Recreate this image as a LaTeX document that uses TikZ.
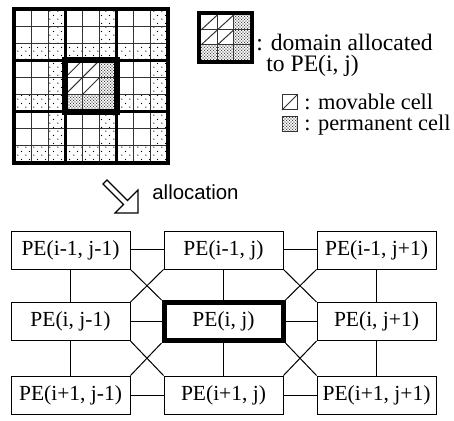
\documentclass[tikz,border=0pt]{standalone}
\usepackage{fontspec}
\setmainfont{Liberation Serif}
\setsansfont{Liberation Sans}
\usetikzlibrary{patterns,positioning}

\pgfdeclarepatternformonly{finedots}{\pgfqpoint{0pt}{0pt}}{\pgfqpoint{1.4pt}{1.4pt}}{\pgfqpoint{1.4pt}{1.4pt}}{%
  \pgfpathcircle{\pgfqpoint{0.35pt}{0.35pt}}{0.3pt}%
  \pgfpathcircle{\pgfqpoint{1.05pt}{1.05pt}}{0.3pt}%
  \pgfusepath{fill}}
\pgfdeclarepatternformonly{sparsedots}{\pgfqpoint{0pt}{0pt}}{\pgfqpoint{4pt}{4pt}}{\pgfqpoint{4pt}{4pt}}{%
  \pgfpathcircle{\pgfqpoint{1pt}{1pt}}{0.35pt}%
  \pgfpathcircle{\pgfqpoint{3pt}{3pt}}{0.35pt}%
  \pgfusepath{fill}}

\tikzset{
  pebox/.style={draw, minimum width=59.5pt, minimum height=19pt, inner sep=0pt,
    font=\fontsize{10.75}{12}\selectfont},
  cellline/.style={line width=0.5pt, black!80},
  blockline/.style={line width=1.6pt},
  domainline/.style={line width=3pt},
  legendtext/.style={anchor=west, inner sep=0pt, font=\fontsize{11.2}{13}\selectfont},
}

\begin{document}
\begin{tikzpicture}[x=0.5pt,y=-0.5pt]
\useasboundingbox (0,0) rectangle (454,421);
\def\cs{17.111}
% cells of the whole area
\foreach \i in {0,...,8}{
  \foreach \j in {0,...,8}{
    \pgfmathtruncatemacro{\isperm}{or(mod(\i,3)==2,mod(\j,3)==2)}
    \pgfmathtruncatemacro{\iscentre}{and(and(\i>2,\i<6),and(\j>2,\j<6))}
    \ifnum\iscentre=1
      \ifnum\isperm=1
        \fill[pattern=finedots] ({14+\i*\cs},{9+\j*\cs}) rectangle +(\cs,\cs);
      \else
        \draw[cellline] ({14+\i*\cs},{9+(\j+1)*\cs}) -- +(\cs,-\cs);
      \fi
    \else
      \ifnum\isperm=1
        \fill[pattern=sparsedots] ({14+\i*\cs},{9+\j*\cs}) rectangle +(\cs,\cs);
      \fi
    \fi
  }
}
\foreach \k in {1,2,4,5,7,8}{
  \draw[cellline] ({14+\k*\cs},9) -- ({14+\k*\cs},163);
  \draw[cellline] (14,{9+\k*\cs}) -- (168,{9+\k*\cs});
}
\foreach \k in {3,6}{
  \draw[blockline] ({14+\k*\cs},9) -- ({14+\k*\cs},163);
  \draw[blockline] (14,{9+\k*\cs}) -- (168,{9+\k*\cs});
}
\draw[blockline] (14,9) rectangle (168,163);
\draw[domainline] ({14+3*\cs},{9+3*\cs}) rectangle ({14+6*\cs},{9+6*\cs});
%
% legend
\foreach \i in {0,1,2}{
  \foreach \j in {0,1,2}{
    \pgfmathtruncatemacro{\isperm}{or(\i==2,\j==2)}
    \ifnum\isperm=1
      \fill[pattern=finedots] ({201+\i*16.33},{15+\j*15}) rectangle +(16.33,15);
    \else
      \draw[cellline] ({201+\i*16.33},{15+(\j+1)*15}) -- +(16.33,-15);
    \fi
  }
}
\foreach \k in {1,2}{
  \draw[cellline] ({201+\k*16.33},15) -- ({201+\k*16.33},60);
  \draw[cellline] (201,{15+\k*15}) -- (250,{15+\k*15});
}
\draw[line width=2pt] (199,13) rectangle (252,62);
\node[legendtext, font=\fontsize{11.8}{14}\selectfont] (dom) at (256,42) {: domain allocated};
\node[legendtext, font=\fontsize{11.8}{14}\selectfont] (dom2) at (266,66) {to PE(i, j)};
%
\draw[cellline] (282,95) rectangle (297,110);
\draw[cellline] (282,110) -- (297,95);
\node[legendtext] (mov) at (304,102) {: movable cell};
\fill[pattern=finedots] (282,117) rectangle (297,132);
\draw[cellline] (282,117) rectangle (297,132);
\node[legendtext] (perm) at (304,125) {: permanent cell};
%
% allocation arrow
\draw[line width=0.6pt, line join=miter] (107,180) -- (127.5,200.5) -- (138,190) -- (138,213)
  -- (115,213) -- (123.5,204.5) -- (103,184) -- cycle;
\node[anchor=west, inner sep=0pt, font=\sffamily\fontsize{10.2}{12}\selectfont] (alloc) at (152,192) {allocation};
%
% processing elements
\node[pebox] (pe00) at (70.5,250) {PE(i-1, j-1)};
\node[pebox] (pe01) at (223.5,250) {PE(i-1, j)};
\node[pebox] (pe02) at (376.5,250) {PE(i-1, j+1)};
\node[pebox] (pe10) at (70.5,321.5) {PE(i, j-1)};
\node[pebox, line width=2.5pt] (pe11) at (223.5,321.5) {PE(i, j)};
\node[pebox] (pe12) at (376.5,321.5) {PE(i, j+1)};
\node[pebox] (pe20) at (70.5,395) {PE(i+1, j-1)};
\node[pebox] (pe21) at (223.5,395) {PE(i+1, j)};
\node[pebox] (pe22) at (376.5,395) {PE(i+1, j+1)};
%
\foreach \Source/\Target in {%
  pe00.east/pe01.west, pe01.east/pe02.west,
  pe10.east/pe11.west, pe11.east/pe12.west,
  pe20.east/pe21.west, pe21.east/pe22.west,
  pe00.south/pe10.north, pe10.south/pe20.north,
  pe01.south/pe11.north, pe11.south/pe21.north,
  pe02.south/pe12.north, pe12.south/pe22.north,
  pe00.south east/pe11.north west, pe01.south west/pe10.north east,
  pe01.south east/pe12.north west, pe02.south west/pe11.north east,
  pe10.south east/pe21.north west, pe11.south west/pe20.north east,
  pe11.south east/pe22.north west, pe12.south west/pe21.north east%
  }
\draw[line width=0.5pt] (\Source) -- (\Target);
\end{tikzpicture}
\end{document}
